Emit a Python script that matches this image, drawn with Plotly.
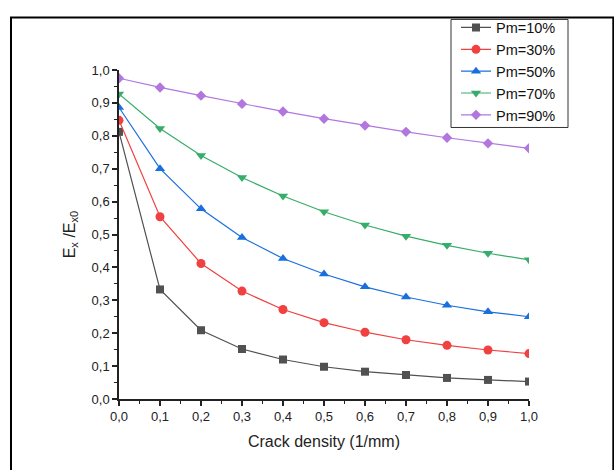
import plotly.graph_objects as go

crack_density = [0.0, 0.1, 0.2, 0.3, 0.4, 0.5, 0.6, 0.7, 0.8, 0.9, 1.0]

pm10 = [0.812, 0.333, 0.209, 0.152, 0.120, 0.098, 0.083, 0.073, 0.064, 0.058, 0.053]
pm30 = [0.847, 0.554, 0.412, 0.328, 0.272, 0.232, 0.203, 0.180, 0.163, 0.149, 0.138]
pm50 = [0.886, 0.700, 0.578, 0.491, 0.427, 0.380, 0.341, 0.310, 0.285, 0.265, 0.250]
pm70 = [0.927, 0.822, 0.740, 0.673, 0.617, 0.569, 0.529, 0.495, 0.467, 0.443, 0.423]
pm90 = [0.975, 0.947, 0.922, 0.897, 0.874, 0.852, 0.831, 0.812, 0.794, 0.777, 0.762]

series_names = ["Pm=10%", "Pm=30%", "Pm=50%", "Pm=70%", "Pm=90%"]
series_values = [pm10, pm30, pm50, pm70, pm90]
colors = ["#515151", "#F14040", "#1A6FDF", "#37AD6B", "#B177DE"]
symbols = ["square", "circle", "triangle-up", "triangle-down", "diamond"]
sizes = [8, 9, 9, 9, 8]

FONT = "Arial, Liberation Sans, sans-serif"

fig = go.Figure()
for name, vals, c, s, sz in zip(series_names, series_values, colors, symbols, sizes):
    fig.add_trace(go.Scatter(
        x=crack_density, y=vals, name=name, mode="lines+markers",
        line=dict(color=c, width=1.2),
        marker=dict(symbol=s, size=sz, color=c, line=dict(width=0)),
        cliponaxis=True,
    ))

# plot-area edges in page pixels (body margin is removed below)
L, R, T, B = 119, 529, 67, 399
W, H = 614, 470

def px_x(px):
    return (px - L) / (R - L)

def px_y(py):
    return (B - py) / (B - T)

axis_common = dict(
    range=[0, 1], showline=True, linecolor="#222", linewidth=1.5,
    ticks="outside", ticklen=5, tickwidth=1.5, tickcolor="#222",
    showgrid=False, zeroline=False, dtick=0.1, tickformat=".1f",
    tickfont=dict(family=FONT, size=13, color="#222"),
    minor=dict(ticks="outside", ticklen=3, tickwidth=1, tickcolor="#222", dtick=0.05),
    mirror=False,
)

fig.update_layout(
    width=W, height=H,
    margin=dict(l=L, r=W - R, t=T, b=H - B),
    paper_bgcolor="white", plot_bgcolor="white",
    separators=", ",
    font=dict(family=FONT, color="#222"),
    xaxis=dict(**axis_common, title=dict(text="Crack density (1/mm)",
                                         font=dict(family=FONT, size=16, color="#222"),
                                         standoff=12)),
    yaxis=dict(**axis_common, title=dict(text="E<sub>x</sub> /E<sub>x0</sub>",
                                         font=dict(family=FONT, size=16, color="#222"),
                                         standoff=12)),
    legend=dict(
        x=px_x(456), y=px_y(8), xanchor="left", yanchor="top",
        borderwidth=0, bgcolor="rgba(0,0,0,0)",
        font=dict(family=FONT, size=14.5, color="#111"),
        tracegroupgap=0, itemsizing="trace",
    ),
    showlegend=True,
    shapes=[
        dict(type="rect", xref="paper", yref="paper",
             x0=px_x(11), x1=px_x(613.3), y0=px_y(490), y1=px_y(14),
             line=dict(color="black", width=2), fillcolor="rgba(0,0,0,0)", layer="above"),
        dict(type="rect", xref="paper", yref="paper",
             x0=px_x(451), x1=px_x(568), y0=px_y(125), y1=px_y(16),
             line=dict(color="#333", width=1), fillcolor="rgba(0,0,0,0)", layer="above"),
    ],
)

fig.write_html(
    "out.html",
    config={"displayModeBar": False},
    post_script="document.body.style.margin='0';document.body.style.overflow='hidden';",
)
